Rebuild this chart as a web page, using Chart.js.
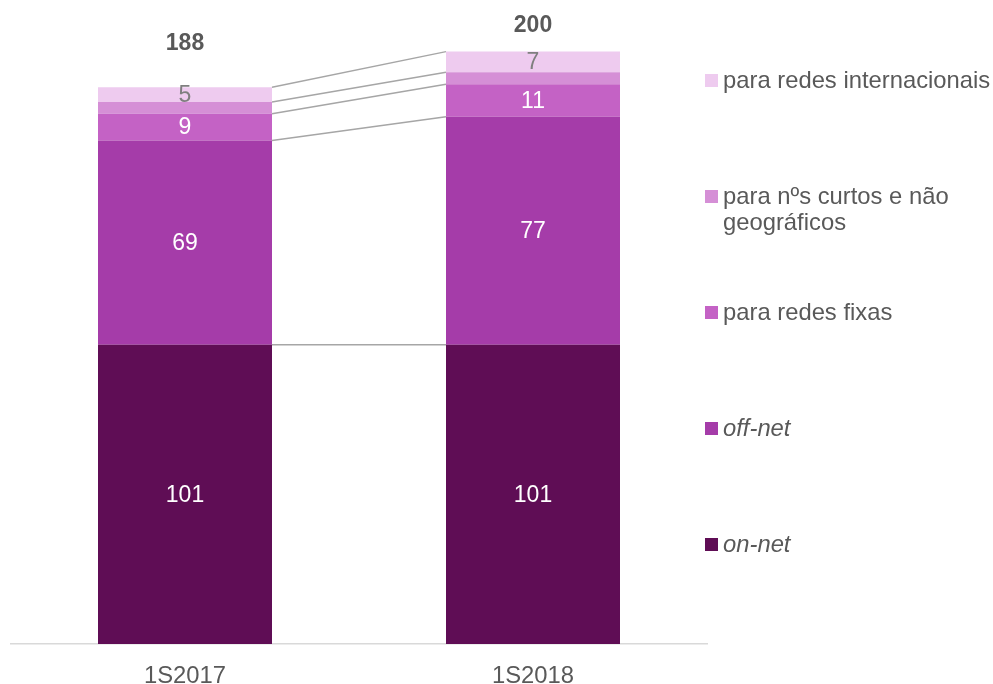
<!DOCTYPE html>
<html>
<head>
<meta charset="utf-8">
<script src="https://cdn.jsdelivr.net/npm/chart.js@4"></script>
<style>
  body { margin: 0; background: #fff; font-family: "Liberation Sans", Arial, sans-serif; }
  #wrap { position: relative; width: 993px; height: 684px; }
  #legend { position: absolute; left: 705px; top: 67px; color: #595959; font-size: 23.8px; line-height: 26px; }
  #legend .item { display: flex; align-items: flex-start; height: 116px; }
  #legend .box { width: 13px; height: 13px; margin: 7px 5px 0 0; flex: none; }
  #legend .it { font-style: italic; }
</style>
</head>
<body>
<div id="wrap">
  <canvas id="chart" width="993" height="684"></canvas>
  <div id="legend"></div>
</div>
<script>
// data
const categories = ['1S2017', '1S2018'];
const onNet = [101, 101];
const offNet = [69, 77];
const redesFixas = [9, 11];
const numCurtos = [4, 4];
const internacionais = [5, 7];

const series = [
    { label: 'on-net', data: onNet, color: '#5f0d55', text: '#ffffff', italic: true },
    { label: 'off-net', data: offNet, color: '#a53ca9', text: '#ffffff', italic: true },
    { label: 'para redes fixas', data: redesFixas, color: '#c462c5', text: '#ffffff' },
    { label: 'para nºs curtos e não<br>geográficos', data: numCurtos, color: '#d58fd6', text: null },
    { label: 'para redes internacionais', data: internacionais, color: '#eecbef', text: '#7f7f7f' }
];

const FONT = '"Liberation Sans", Arial, sans-serif';

// lines joining the top of each segment between the two bars
const seriesLines = {
    id: 'seriesLines',
    beforeDatasetsDraw(chart) {
        const ctx = chart.ctx;
        ctx.save();
        ctx.strokeStyle = '#a6a6a6';
        ctx.lineWidth = 1.5;
        chart.data.datasets.forEach((ds, i) => {
            const bars = chart.getDatasetMeta(i).data;
            for (let j = 0; j < bars.length - 1; j++) {
                const a = bars[j], b = bars[j + 1];
                ctx.beginPath();
                ctx.moveTo(a.x + a.width / 2, a.y);
                ctx.lineTo(b.x - b.width / 2, b.y);
                ctx.stroke();
            }
        });
        ctx.restore();
    }
};

// value labels inside segments + totals on top
const valueLabels = {
    id: 'valueLabels',
    afterDatasetsDraw(chart) {
        const ctx = chart.ctx;
        ctx.save();
        ctx.textAlign = 'center';
        ctx.textBaseline = 'middle';
        ctx.font = '23px ' + FONT;
        chart.data.datasets.forEach((ds, i) => {
            if (!series[i].text) return;
            ctx.fillStyle = series[i].text;
            chart.getDatasetMeta(i).data.forEach((bar, j) => {
                ctx.fillText(ds.data[j], bar.x, (bar.y + bar.base) / 2 + 1);
            });
        });
        // totals
        const yScale = chart.scales.y;
        const lift = [44, 26];
        ctx.font = 'bold 23px ' + FONT;
        ctx.fillStyle = '#595959';
        categories.forEach((c, j) => {
            const total = series.reduce((s, d) => s + d.data[j], 0);
            const x = chart.getDatasetMeta(0).data[j].x;
            ctx.fillText(total, x, yScale.getPixelForValue(total) - lift[j]);
        });
        ctx.restore();
    }
};

new Chart(document.getElementById('chart'), {
    type: 'bar',
    data: {
        labels: categories,
        datasets: series.map(s => ({
            label: s.label,
            data: s.data,
            backgroundColor: s.color,
            borderWidth: 0,
            categoryPercentage: 1,
            barPercentage: 0.5
        }))
    },
    options: {
        responsive: false,
        animation: false,
        layout: { padding: { left: 11, right: 286, top: 22, bottom: 0 } },
        plugins: { legend: { display: false }, tooltip: { enabled: false } },
        scales: {
            x: {
                stacked: true,
                grid: { display: false, drawTicks: false },
                border: { color: '#d9d9d9', width: 1.5 },
                ticks: { color: '#595959', font: { family: FONT, size: 23.8 }, padding: 18 },
                afterFit(scale) { scale.height = 40; }
            },
            y: {
                stacked: true,
                display: false,
                min: 0,
                max: 210
            }
        }
    },
    plugins: [seriesLines, valueLabels]
});

// legend, top item is the top of the stack
const legend = document.getElementById('legend');
series.slice().reverse().forEach(s => {
    const item = document.createElement('div');
    item.className = 'item';
    item.innerHTML = '<span class="box" style="background:' + s.color + '"></span>' +
        '<span class="' + (s.italic ? 'it' : '') + '">' + s.label + '</span>';
    legend.appendChild(item);
});
</script>
</body>
</html>
